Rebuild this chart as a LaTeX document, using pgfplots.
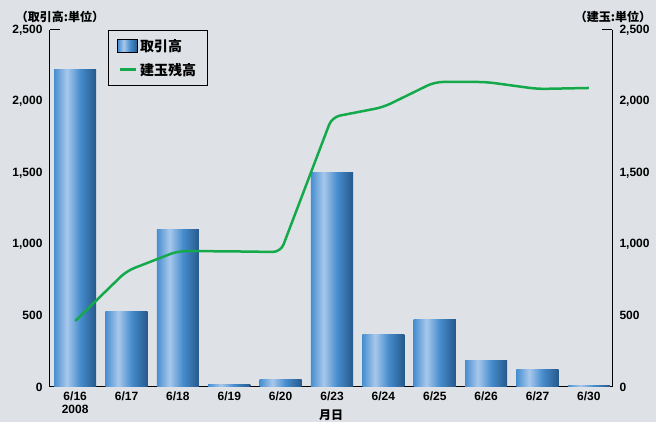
\documentclass[border=0pt]{standalone}
\usepackage{pgfplots}
\pgfplotsset{compat=1.18}
\usepackage{fontspec}
\setmainfont{Liberation Sans}
\newfontfamily\cjk{Noto Sans CJK JP}
\usetikzlibrary{backgrounds}

\definecolor{bgc}{RGB}{222,226,231}
\definecolor{lineg}{RGB}{20,170,75}
\definecolor{barA}{RGB}{72,142,208}
\definecolor{barB}{RGB}{168,200,236}
\definecolor{barC}{RGB}{70,140,205}
\definecolor{barD}{RGB}{38,88,138}
% tikz maps the bar onto the 25bp..75bp band of the shading
\pgfdeclarehorizontalshading{barshade}{100bp}{color(0bp)=(barA); color(25bp)=(barA); color(40bp)=(barB); color(56bp)=(barC); color(75bp)=(barD); color(100bp)=(barD)}

% x positions: 0..10 = 6/16 .. 6/30
\pgfplotstableread{
x vol oi
0 2220 462
1 532 812
2 1100 952
3 20 950
4 50 945
5 1500 1890
6 371 1960
7 476 2136
8 189 2136
9 126 2087
10 12 2094
}\datatable

\begin{document}
\begin{tikzpicture}
\pgfplotsset{
  base/.style={
    scale only axis, width=562pt, height=357pt,
    xmin=-0.49, xmax=10.45, ymin=0, ymax=2500,
    ytick={0,500,...,2500},
    /pgf/number format/.cd, 1000 sep={,}, assume math mode=true,
    /pgfplots/.cd,
    tick label style={font=\bfseries\fontsize{12}{13}\selectfont},
    major tick length=0pt,
    axis line style={line width=1pt, black},
  },
}
\begin{axis}[base, name=ax,
  axis x line*=bottom, axis y line*=left,
  xtick={0,...,10},
  xticklabels={{6/16\\2008},6/17,6/18,6/19,6/20,6/23,6/24,6/25,6/26,6/27,6/30},
  xticklabel style={align=center, yshift=-1pt},
  xlabel={\cjk\bfseries 月日}, xlabel style={yshift=10pt, font=\fontsize{12}{13}\selectfont},
  yticklabel style={xshift=-4pt},
  extra y ticks={2500}, extra y tick labels={},
  extra y tick style={major tick length=10pt, tick style={line width=1pt, black}},
  legend style={at={(0.103,1)}, anchor=north west, draw=black, line width=0.8pt, fill=none,
    font=\cjk\bfseries\fontsize{14}{16}\selectfont, row sep=6pt, inner xsep=9pt, inner ysep=7pt},
  legend cell align=left,
]
\addlegendimage{legend image code/.code={\path[shading=barshade] (0pt,-6pt) rectangle (20pt,7pt);}}
\addlegendentry{取引高}
\addlegendimage{legend image code/.code={\draw[lineg, line width=2.5pt] (2pt,0pt) -- (18pt,0pt);}}
\addlegendentry{建玉残高}
\pgfplotsinvokeforeach{0,...,10}{
  \addplot[ybar, bar width=0.82, draw=none, shading=barshade, forget plot,
    restrict x to domain=#1:#1] table[x=x, y=vol] {\datatable};
}
\end{axis}
\begin{axis}[base,
  axis x line=none, axis y line*=right,
  xtick=\empty,
  yticklabel style={xshift=4pt},
  extra y ticks={2500}, extra y tick labels={},
  extra y tick style={major tick length=10pt, tick style={line width=1pt, black}},
]
\addplot[lineg, line width=2.5pt, rounded corners=8pt] table[x=x, y=oi] {\datatable};
\end{axis}
\node[font=\cjk\bfseries\fontsize{12}{13}\selectfont] at ([xshift=10pt,yshift=13pt]ax.north west) {（取引高:単位）};
\node[font=\cjk\bfseries\fontsize{12}{13}\selectfont] at ([xshift=1pt,yshift=13pt]ax.north east) {（建玉:単位）};
\begin{pgfonlayer}{background}
\fill[bgc] ([xshift=-50pt,yshift=-35pt]ax.south west) rectangle ([xshift=44pt,yshift=30pt]ax.north east);
\end{pgfonlayer}
\end{tikzpicture}
\end{document}
